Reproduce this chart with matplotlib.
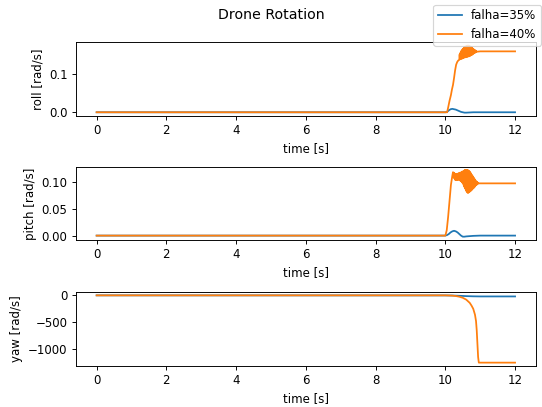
import matplotlib

matplotlib.use("Agg")
import matplotlib.pyplot as plt
import numpy as np

# ---- data ----
labels = ["falha=35%", "falha=40%"]
time_ticks = [0, 2, 4, 6, 8, 10, 12]

# roll, falha=35%
roll35_t = [0, 10.0, 10.05, 10.10, 10.15, 10.20, 10.25, 10.30, 10.35, 10.40,
            10.45, 10.50, 10.55, 10.60, 10.70, 10.80, 11.0, 12.0]
roll35_v = [0, 0, 0.001, 0.005, 0.008, 0.009, 0.008, 0.007, 0.005, 0.003,
            0.001, 0.0, -0.001, -0.001, -0.0005, 0, 0, 0]

# roll, falha=40%: rise, then an oscillating stretch sampled every 0.01 s
roll40_rise_t = [0, 10.0, 10.05, 10.08, 10.12, 10.16, 10.19, 10.22, 10.25,
                 10.28, 10.31, 10.34, 10.37]
roll40_rise_v = [0, 0, 0.0, 0.012, 0.030, 0.045, 0.060, 0.072, 0.090,
                 0.110, 0.125, 0.132, 0.136]
roll40_osc_v = [0.138, 0.152, 0.139, 0.156, 0.140, 0.160, 0.141, 0.162, 0.141,
                0.165, 0.142, 0.167, 0.143, 0.169, 0.144, 0.170, 0.144, 0.172,
                0.145, 0.173, 0.145, 0.174, 0.146, 0.175, 0.146, 0.175, 0.147,
                0.175, 0.147, 0.174, 0.148, 0.173, 0.149, 0.172, 0.150, 0.170,
                0.151, 0.169, 0.152, 0.167, 0.154, 0.166, 0.155, 0.164, 0.156,
                0.163, 0.157, 0.162, 0.158, 0.160, 0.159]
roll40_tail_t = [11.0, 12.0]
roll40_tail_v = [0.160, 0.160]

# pitch, falha=35%
pitch35_t = [0, 10.0, 10.05, 10.10, 10.15, 10.20, 10.25, 10.30, 10.35, 10.40,
             10.45, 10.50, 10.55, 10.60, 10.70, 10.80, 11.0, 12.0]
pitch35_v = [0, 0, 0.001, 0.003, 0.006, 0.008, 0.009, 0.008, 0.006, 0.003,
             0.0, -0.002, -0.002, -0.0015, -0.001, -0.0005, 0, 0]

# pitch, falha=40%
pitch40_rise_t = [0, 10.0, 10.04, 10.08, 10.12, 10.16, 10.20, 10.22]
pitch40_rise_v = [0, 0, 0.010, 0.035, 0.065, 0.095, 0.112, 0.119]
pitch40_osc_v = [0.110, 0.118, 0.108, 0.117, 0.106, 0.116, 0.104, 0.115, 0.104,
                 0.115, 0.104, 0.116, 0.105, 0.116, 0.105, 0.117, 0.105, 0.117,
                 0.104, 0.118, 0.103, 0.118, 0.102, 0.119, 0.101, 0.120, 0.099,
                 0.120, 0.097, 0.121, 0.094, 0.122, 0.091, 0.123, 0.088, 0.123,
                 0.085, 0.123, 0.083, 0.123, 0.081, 0.123, 0.080, 0.122, 0.081,
                 0.121, 0.082, 0.120, 0.083, 0.118, 0.084, 0.116, 0.085, 0.114,
                 0.087, 0.112, 0.088, 0.110, 0.089, 0.108, 0.091, 0.106, 0.092,
                 0.104, 0.094, 0.102, 0.095, 0.101, 0.096, 0.100, 0.097, 0.099,
                 0.098]
pitch40_tail_t = [11.0, 12.0]
pitch40_tail_v = [0.098, 0.098]

# yaw
yaw35_t = [0, 10.0, 10.2, 10.4, 10.6, 10.8, 11.0, 12.0]
yaw35_v = [0, -1, -3, -8, -14, -18, -20, -20]
yaw40_t = [0, 10.0, 10.2, 10.3, 10.4, 10.5, 10.6, 10.7, 10.75, 10.8, 10.85,
           10.88, 10.90, 10.92, 10.94, 10.96, 12.0]
yaw40_v = [0, 0, -5, -12, -25, -45, -80, -140, -190, -250, -360,
           -480, -650, -900, -1150, -1255, -1255]


def build(rise_t, rise_v, osc_start, osc_v, tail_t, tail_v):
    """join rise / oscillation / tail pieces into one series"""
    osc_t = osc_start + 0.01 * np.arange(len(osc_v))
    t = np.concatenate([rise_t, osc_t, tail_t])
    v = np.concatenate([rise_v, osc_v, tail_v])
    return t, v


roll40_t, roll40_v = build(roll40_rise_t, roll40_rise_v, 10.40,
                           roll40_osc_v, roll40_tail_t, roll40_tail_v)
pitch40_t, pitch40_v = build(pitch40_rise_t, pitch40_rise_v, 10.23,
                             pitch40_osc_v, pitch40_tail_t, pitch40_tail_v)

# ---- figure ----
W, H = 542, 407
DPI = 84.7
fig = plt.figure(figsize=(W / DPI, H / DPI), dpi=DPI)

panels = [
    ("roll [rad/s]", (roll35_t, roll35_v), (roll40_t, roll40_v), 116.0, 42.3),
    ("pitch [rad/s]", (pitch35_t, pitch35_v), (pitch40_t, pitch40_v), 240.0, 166.7),
    ("yaw [rad/s]", (yaw35_t, yaw35_v), (yaw40_t, yaw40_v), 366.0, 292.0),
]

left, right = 75.7, 536.0
lines = []
for ylabel, s35, s40, bot, top in panels:
    ax = fig.add_axes([left / W, 1 - bot / H, (right - left) / W, (bot - top) / H])
    l1, = ax.plot(s35[0], s35[1], color="#1f77b4", linewidth=1.5)
    l2, = ax.plot(s40[0], s40[1], color="#ff7f0e", linewidth=1.5)
    lines = [l1, l2]
    ax.set_xticks(time_ticks)
    ax.set_xlabel("time [s]")
    ax.set_ylabel(ylabel)

fig.suptitle("Drone Rotation", y=1 - 15 / H, va="center", fontsize=12)
fig.legend(lines, labels, loc="upper right",
           bbox_to_anchor=(541 / W, 1 - 4.5 / H), borderaxespad=0)

fig.savefig("out.png", dpi=DPI)
